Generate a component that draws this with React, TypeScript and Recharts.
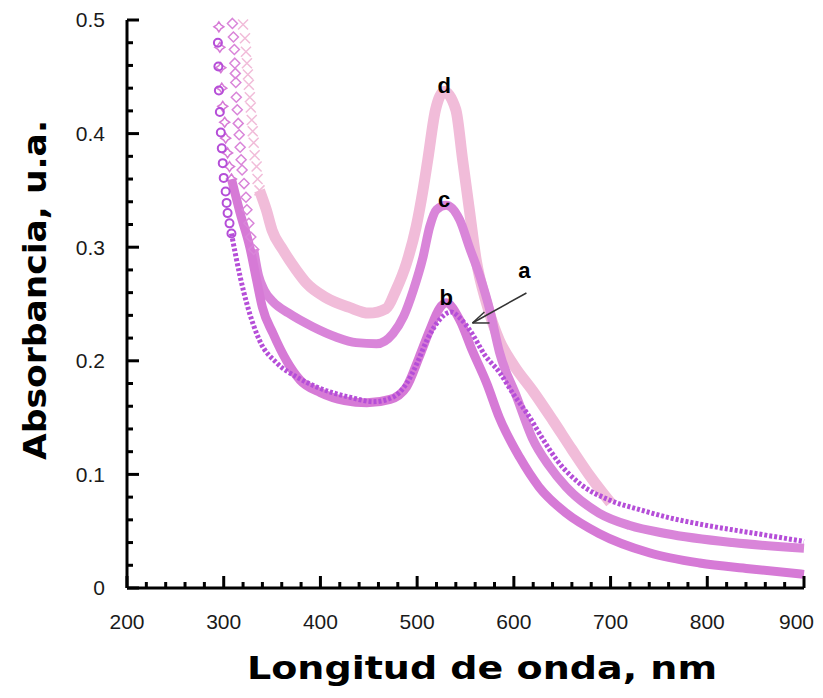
import React from "react";
import { ComposedChart, Line, Scatter, XAxis, YAxis, ReferenceDot, ReferenceLine } from "recharts";

// wavelength (nm), absorbance (u.a.)
const xMajor = [200, 300, 400, 500, 600, 700, 800, 900];
const yMajor = [0, 0.1, 0.2, 0.3, 0.4, 0.5];

// steep start of each spectrum, where single markers can still be told apart
const aTop = [[294, 0.48], [294.5, 0.459], [295, 0.438], [296, 0.419], [297, 0.401], [298, 0.387], [299, 0.374], [300, 0.361], [302, 0.349], [303, 0.339], [304, 0.33], [306, 0.321], [308, 0.312]];
const bTop = [[295, 0.494], [296, 0.476], [297, 0.458], [298, 0.44], [299, 0.424], [301, 0.41], [302, 0.396], [304, 0.383], [306, 0.371], [308, 0.36]];
const cTop = [[309, 0.497], [310, 0.485], [311, 0.474], [311.5, 0.462], [312, 0.453], [312.5, 0.445], [313, 0.432], [314, 0.421], [315, 0.409], [316, 0.399], [317, 0.388], [318, 0.377], [319, 0.368], [321, 0.356], [323, 0.344], [324, 0.333], [326, 0.321], [328, 0.309], [331, 0.298]];
const dTop = [[320, 0.496], [322, 0.484], [323, 0.472], [324, 0.462], [325, 0.452], [326, 0.443], [327, 0.432], [328, 0.423], [329, 0.412], [330, 0.402], [331, 0.392], [332, 0.381], [334, 0.371], [335, 0.36], [337, 0.35]];

// rest of each spectrum (markers overlap into a band)
const aBody = [[308, 0.312], [317, 0.274], [324, 0.25], [337, 0.218], [355, 0.198], [375, 0.186], [396, 0.177], [430, 0.168], [455, 0.164], [475, 0.168], [489, 0.18], [500, 0.198], [510, 0.218], [523, 0.236], [535, 0.243], [545, 0.237], [556, 0.225], [570, 0.205], [585, 0.19], [600, 0.17], [615, 0.152], [630, 0.131], [645, 0.112], [668, 0.092], [700, 0.077], [730, 0.069], [760, 0.062], [800, 0.055], [850, 0.048], [900, 0.041]];
const bBody = [[308, 0.36], [317, 0.33], [327, 0.3], [334, 0.271], [340, 0.247], [351, 0.224], [365, 0.2], [379, 0.183], [400, 0.172], [425, 0.165], [448, 0.163], [472, 0.166], [489, 0.177], [502, 0.203], [513, 0.227], [523, 0.246], [530, 0.251], [544, 0.236], [557, 0.209], [572, 0.18], [585, 0.15], [606, 0.115], [626, 0.089], [654, 0.066], [688, 0.048], [740, 0.031], [792, 0.022], [843, 0.017], [900, 0.012]];
const cBody = [[331, 0.298], [336, 0.275], [342, 0.262], [351, 0.252], [367, 0.242], [392, 0.23], [416, 0.221], [437, 0.216], [458, 0.215], [475, 0.224], [486, 0.239], [496, 0.262], [506, 0.291], [513, 0.318], [520, 0.333], [530, 0.337], [544, 0.324], [554, 0.3], [565, 0.274], [575, 0.245], [585, 0.208], [603, 0.168], [619, 0.132], [636, 0.108], [654, 0.089], [688, 0.066], [720, 0.055], [757, 0.048], [826, 0.04], [900, 0.035]];
const dBody = [[337, 0.35], [344, 0.333], [350, 0.315], [361, 0.298], [375, 0.28], [386, 0.268], [405, 0.256], [430, 0.247], [450, 0.242], [468, 0.246], [478, 0.262], [489, 0.286], [499, 0.318], [506, 0.35], [511, 0.377], [519, 0.421], [528, 0.437], [540, 0.421], [547, 0.377], [554, 0.333], [561, 0.289], [572, 0.25], [585, 0.218], [600, 0.196], [620, 0.173], [640, 0.148], [660, 0.122], [680, 0.097], [700, 0.075]];

const colA = "#b54ed8";
const colB = "#d67ad6";
const colC = "#d985d9";
const colD = "#f1bcd9";

const pts = (arr: number[][]) => arr.map(([x, y]) => ({ x, y }));

// minor ticks: 4 between each pair of majors
const withMinor = (major: number[]) => {
  const out: number[] = [];
  for (let i = 0; i < major.length - 1; i++) {
    const step = (major[i + 1] - major[i]) / 5;
    for (let k = 0; k < 5; k++) out.push(Math.round((major[i] + k * step) * 1000) / 1000);
  }
  out.push(major[major.length - 1]);
  return out;
};
const xTicks = withMinor(xMajor);
const yTicks = withMinor(yMajor);
const isMajor = (v: number, major: number[]) => major.some((m) => Math.abs(m - v) < 1e-6);

const tickFont = { fontFamily: "'Liberation Sans', Arial, sans-serif", fontSize: 21, fill: "#1a1a1a" };

const XTick = (props: any) => {
  const { x, y, payload } = props;
  const major = isMajor(payload.value, xMajor);
  const last = payload.value === xMajor[xMajor.length - 1];
  return (
    <g>
      <line x1={x} x2={x} y1={y} y2={y - (major ? 12 : 6)} stroke="#000" strokeWidth={3} />
      {major && (
        <text x={last ? x + 10 : x} y={y + 34} textAnchor={last ? "end" : "middle"} dy="0.35em" {...tickFont}>
          {payload.value}
        </text>
      )}
    </g>
  );
};

const YTick = (props: any) => {
  const { x, y, payload } = props;
  const major = isMajor(payload.value, yMajor);
  return (
    <g>
      <line x1={x} x2={x + (major ? 12 : 6)} y1={y} y2={y} stroke="#000" strokeWidth={3} />
      {major && (
        <text x={x - 22} y={y} textAnchor="end" dy="0.35em" {...tickFont}>
          {String(Math.round(payload.value * 10) / 10)}
        </text>
      )}
    </g>
  );
};

const circle = (p: any) => <circle cx={p.cx} cy={p.cy} r={4} fill="none" stroke={colA} strokeWidth={2} />;
const plusDiamond = (p: any) => (
  <path d={`M${p.cx},${p.cy - 5} L${p.cx + 2},${p.cy - 2} L${p.cx + 5},${p.cy} L${p.cx + 2},${p.cy + 2} L${p.cx},${p.cy + 5} L${p.cx - 2},${p.cy + 2} L${p.cx - 5},${p.cy} L${p.cx - 2},${p.cy - 2} Z`} fill="none" stroke={colB} strokeWidth={1.5} />
);
const diamond = (p: any) => (
  <path d={`M${p.cx},${p.cy - 5} L${p.cx + 5},${p.cy} L${p.cx},${p.cy + 5} L${p.cx - 5},${p.cy} Z`} fill="none" stroke={colC} strokeWidth={1.5} />
);
const cross = (p: any) => (
  <path d={`M${p.cx - 5},${p.cy - 5} L${p.cx + 5},${p.cy + 5} M${p.cx + 5},${p.cy - 5} L${p.cx - 5},${p.cy + 5}`} stroke={colD} strokeWidth={1.5} />
);

const letter = { fontFamily: "'Liberation Sans', Arial, sans-serif", fontSize: 22, fontWeight: "bold", fill: "#000", position: "center" as const };
const titleFont = { fontFamily: "'DejaVu Sans', sans-serif", fontSize: 32, fontWeight: "bold", fill: "#000" };

export default function App() {
  return (
    <div style={{ position: "relative", width: 807, height: 682 }}>
      <ComposedChart width={807} height={682} margin={{ top: 12, right: 11, bottom: 0, left: 0 }}>
        <XAxis
          dataKey="x"
          type="number"
          domain={[200, 900]}
          ticks={xTicks}
          interval={0}
          height={102}
          tickSize={0}
          tickMargin={0}
          tickLine={false}
          axisLine={{ stroke: "#000", strokeWidth: 3 }}
          tick={<XTick />}
        />
        <YAxis
          type="number"
          domain={[0, 0.5]}
          ticks={yTicks}
          interval={0}
          width={119}
          tickSize={0}
          tickMargin={0}
          tickLine={false}
          axisLine={{ stroke: "#000", strokeWidth: 3 }}
          tick={<YTick />}
        />
        <Line data={pts(dBody)} dataKey="y" type="monotone" stroke={colD} strokeWidth={11} dot={false} isAnimationActive={false} />
        <Scatter data={pts(dTop)} dataKey="y" shape={cross} isAnimationActive={false} />
        <Line data={pts(cBody)} dataKey="y" type="monotone" stroke={colC} strokeWidth={9} dot={false} isAnimationActive={false} />
        <Scatter data={pts(cTop)} dataKey="y" shape={diamond} isAnimationActive={false} />
        <Line data={pts(bBody)} dataKey="y" type="monotone" stroke={colB} strokeWidth={9} dot={false} isAnimationActive={false} />
        <Scatter data={pts(bTop)} dataKey="y" shape={plusDiamond} isAnimationActive={false} />
        <Line data={pts(aBody)} dataKey="y" type="monotone" stroke={colA} strokeWidth={5} strokeDasharray="3 2" dot={false} isAnimationActive={false} />
        <Scatter data={pts(aTop)} dataKey="y" shape={circle} isAnimationActive={false} />
        <ReferenceDot x={528} y={0.443} r={0} stroke="none" label={{ value: "d", ...letter }} />
        <ReferenceDot x={528} y={0.342} r={0} stroke="none" label={{ value: "c", ...letter }} />
        <ReferenceDot x={530} y={0.256} r={0} stroke="none" label={{ value: "b", ...letter }} />
        <ReferenceDot x={611} y={0.28} r={0} stroke="none" label={{ value: "a", ...letter }} />
        <ReferenceLine segment={[{ x: 613, y: 0.2597 }, { x: 557.2, y: 0.2333 }]} stroke="#333" strokeWidth={1.5} />
        <ReferenceLine segment={[{ x: 557.2, y: 0.2333 }, { x: 569.6, y: 0.243 }]} stroke="#333" strokeWidth={1.5} />
        <ReferenceLine segment={[{ x: 557.2, y: 0.2333 }, { x: 574.8, y: 0.2333 }]} stroke="#333" strokeWidth={1.5} />
      </ComposedChart>
      <svg width={807} height={682} style={{ position: "absolute", left: 0, top: 0, pointerEvents: "none" }}>
        <text x={474} y={660} textAnchor="middle" dy="0.35em" textLength={470} lengthAdjust="spacingAndGlyphs" {...titleFont}>
          Longitud de onda, nm
        </text>
        <text x={27} y={282} textAnchor="middle" dy="0.35em" transform="rotate(-90 27 282)" textLength={340} lengthAdjust="spacingAndGlyphs" {...titleFont}>
          Absorbancia, u.a.
        </text>
      </svg>
    </div>
  );
}
